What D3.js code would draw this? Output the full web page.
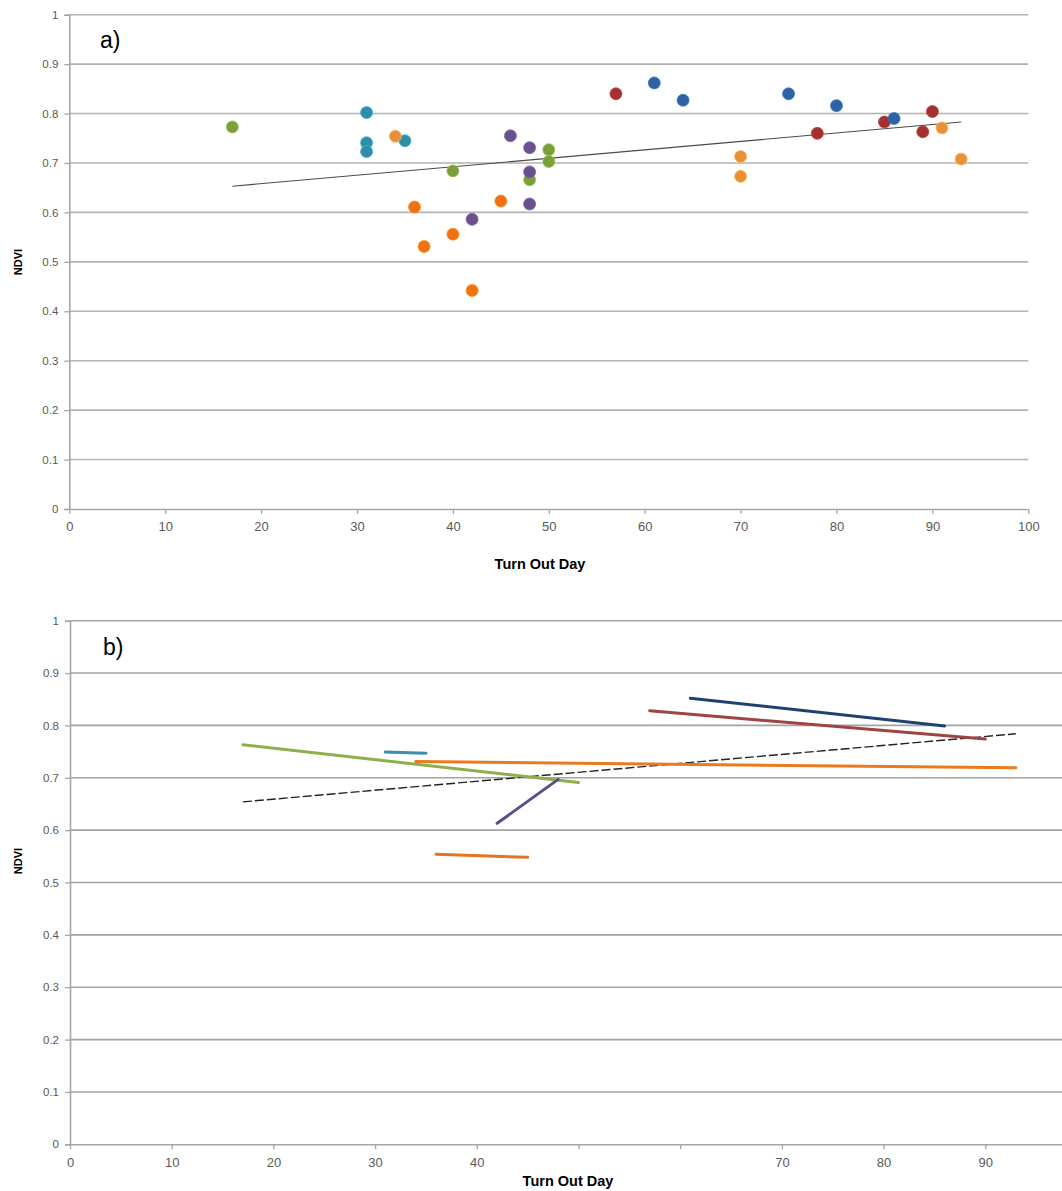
<!DOCTYPE html>
<html><head><meta charset="utf-8">
<script src="https://cdn.jsdelivr.net/npm/d3@7"></script>
<style>
body{margin:0;background:#fff;}
svg{display:block;}
</style></head>
<body><svg id="chart" width="1062" height="1191"></svg>
<script>
// ---------- data ----------
const seriesNames = ["green","teal","lightOrange","darkOrange","purple","red","blue"];
const seriesColors = ["#7A9F3B","#2F8DA8","#E8913C","#EC7214","#69508F","#A33131","#2E62A2"];
const lineColors   = ["#8DAF4C","#3A8FAA","#E97A1E","#E27521","#5D4D88","#A04343","#1F416F"];
// panel a: scatter points per series [day, NDVI]
const greenPts   = [[17,0.773],[40,0.684],[48,0.666],[50,0.727],[50,0.703]];
const tealPts    = [[31,0.802],[31,0.741],[31,0.723],[35,0.745]];
const lightOrPts = [[34,0.754],[70,0.713],[70,0.673],[91,0.771],[93,0.708]];
const darkOrPts  = [[36,0.611],[37,0.531],[40,0.556],[42,0.442],[45,0.623]];
const purplePts  = [[42,0.586],[46,0.755],[48,0.731],[48,0.682],[48,0.617]];
const redPts     = [[57,0.840],[78,0.760],[85,0.783],[89,0.763],[90,0.804]];
const bluePts    = [[61,0.862],[64,0.827],[75,0.840],[80,0.816],[86,0.790]];
const overallTrend = [[17,0.653],[93,0.783]];
// panel b: per-series trend segments [start, end]
const greenTrend   = [[17,0.763],[50,0.691]];
const tealTrend    = [[31,0.749],[35,0.747]];
const lightOrTrend = [[34,0.731],[93,0.719]];
const darkOrTrend  = [[36,0.554],[45,0.548]];
const purpleTrend  = [[42,0.613],[48,0.697]];
const redTrend     = [[57,0.828],[90,0.774]];
const blueTrend    = [[61,0.852],[86,0.799]];
const bOverallTrend = [[17,0.654],[93,0.784]];
const yTicks = [0,0.1,0.2,0.3,0.4,0.5,0.6,0.7,0.8,0.9,1];
const xTicks = [0,10,20,30,40,50,60,70,80,90,100];
const xLabelsA = ["0","10","20","30","40","50","60","70","80","90","100"];
const xLabelsB = ["0","10","20","30","40","","","70","80","90",""];

const allPts = [greenPts,tealPts,lightOrPts,darkOrPts,purplePts,redPts,bluePts];
const allTrends = [greenTrend,tealTrend,lightOrTrend,darkOrTrend,purpleTrend,redTrend,blueTrend];

const svg = d3.select("#chart");
const tickFont = "'Liberation Sans Narrow','Liberation Sans',Arial,sans-serif";
const labFont = "'Liberation Sans',Arial,sans-serif";

function panel(cfg){
  const g = svg.append("g");
  const x = d3.scaleLinear().domain([0,100]).range([cfg.x0,cfg.x1]);
  const y = d3.scaleLinear().domain([0,1]).range([cfg.y0,cfg.y1]);
  const gridRight = Math.min(cfg.x1, 1062);
  // grid
  g.append("g").selectAll("line").data(yTicks.filter(d=>d>0)).join("line")
    .attr("x1",x(0)).attr("x2",gridRight)
    .attr("y1",d=>y(d)).attr("y2",d=>y(d))
    .attr("stroke",cfg.gridColor).attr("stroke-width",1.6);
  // y axis
  const ya = g.append("g").attr("transform",`translate(${x(0)},0)`)
    .call(d3.axisLeft(y).tickValues(yTicks).tickSize(5).tickPadding(6)
      .tickFormat(d=>d===0?"0":d===1?"1":d3.format(".1f")(d)));
  ya.select(".domain").attr("stroke","#A6A6A6").attr("stroke-width",1.6);
  ya.selectAll(".tick line").attr("stroke","#A6A6A6").attr("stroke-width",1.3);
  ya.selectAll("text").attr("font-family",labFont).attr("font-size",11.5).attr("fill","#595959");
  // x axis
  const xa = g.append("g").attr("transform",`translate(0,${y(0)})`)
    .call(d3.axisBottom(x).tickValues(xTicks).tickSize(5).tickPadding(8)
      .tickFormat((d,i)=>cfg.xLabels[i]));
  xa.select(".domain").attr("stroke","#A6A6A6").attr("stroke-width",1.6)
    .attr("d",`M${x(0)},0.5H${gridRight}`);
  xa.selectAll(".tick line").attr("stroke","#A6A6A6").attr("stroke-width",1.3);
  xa.selectAll("text").attr("font-family",tickFont).attr("font-size",13).attr("fill","#595959");
  // labels
  g.append("text").attr("x",cfg.titleX).attr("y",cfg.titleY).attr("text-anchor","middle")
    .attr("font-family",tickFont).attr("font-weight","bold").attr("font-size",14.5)
    .attr("fill","#000").text("Turn Out Day");
  g.append("text").attr("transform",`translate(22,${cfg.ndviY}) rotate(-90)`)
    .attr("text-anchor","middle").attr("font-family",labFont).attr("font-weight","bold")
    .attr("font-size",11).attr("fill","#000").text("NDVI");
  g.append("text").attr("x",cfg.tagX).attr("y",cfg.tagY).attr("font-family",labFont)
    .attr("font-size",23).attr("fill","#000").text(cfg.tag);
  return {g,x,y};
}

// ---------- panel a ----------
const A = panel({x0:69.3,x1:1028.3,y0:509,y1:14.7,gridColor:"#B3B3B3",xLabels:xLabelsA,titleX:540,titleY:569,ndviY:262,tag:"a)",tagX:100,tagY:48});
A.g.append("path").datum(overallTrend)
  .attr("d",d3.line().x(d=>A.x(d[0])).y(d=>A.y(d[1])))
  .attr("fill","none").attr("stroke","#4A4A4A").attr("stroke-width",1.1);
allPts.forEach((pts,i)=>{
  A.g.append("g").selectAll("circle").data(pts).join("circle")
    .attr("cx",d=>A.x(d[0])).attr("cy",d=>A.y(d[1])).attr("r",6)
    .attr("fill",seriesColors[i]).attr("stroke",d3.color(seriesColors[i]).brighter(0.6))
    .attr("stroke-width",0.8);
});

// ---------- panel b ----------
const B = panel({x0:70,x1:1087,y0:1144.3,y1:620.7,gridColor:"#A3A3A3",xLabels:xLabelsB,titleX:568,titleY:1186,ndviY:861,tag:"b)",tagX:103,tagY:655});
const lineB = d3.line().x(d=>B.x(d[0])).y(d=>B.y(d[1]));
B.g.append("path").datum(bOverallTrend).attr("d",lineB)
  .attr("fill","none").attr("stroke","#222").attr("stroke-width",1.4)
  .attr("stroke-dasharray","9,3");
allTrends.forEach((seg,i)=>{
  B.g.append("path").datum(seg).attr("d",lineB)
    .attr("fill","none").attr("stroke",lineColors[i]).attr("stroke-width",3)
    .attr("stroke-linecap","round");
});
</script></body></html>
